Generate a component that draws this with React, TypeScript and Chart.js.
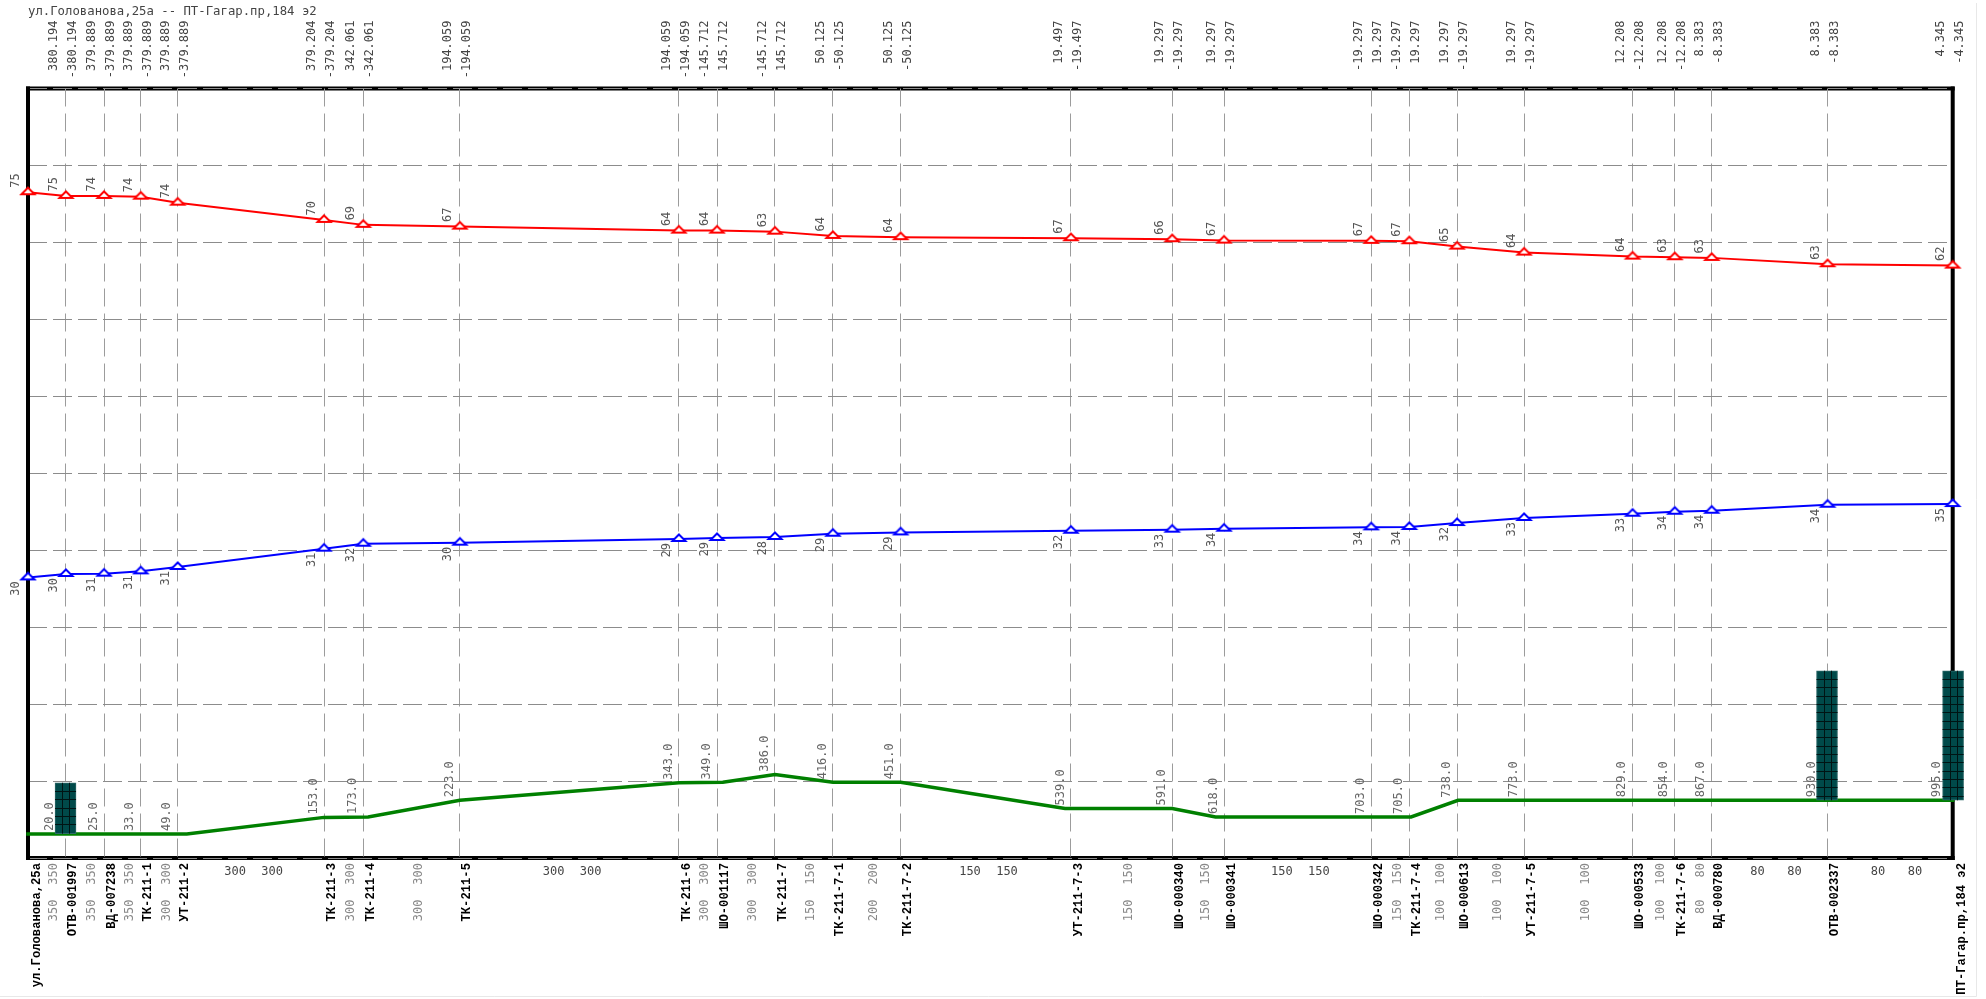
import React, { useEffect, useRef } from "react";
import { Chart, registerables } from "chart.js";

Chart.register(...registerables);

const chartTitle = "ул.Голованова,25а -- ПТ-Гагар.пр,184 э2";

const nodeNames = [
  "ул.Голованова,25а", "ОТВ-001997", "ВД-007238", "ТК-211-1", "УТ-211-2", "ТК-211-3", "ТК-211-4", "ТК-211-5",
  "ТК-211-6", "ШО-001117", "ТК-211-7", "ТК-211-7-1", "ТК-211-7-2", "УТ-211-7-3", "ШО-000340", "ШО-000341",
  "ШО-000342", "ТК-211-7-4", "ШО-000613", "УТ-211-7-5", "ШО-000533", "ТК-211-7-6", "ВД-000780", "ОТВ-002337",
  "ПТ-Гагар.пр,184 э2",
];

const chainage = [
  0, 19.7, 39.5, 58.6, 77.8, 153.8, 174.2, 224.4, 338.2, 358.0, 388.1, 418.2, 453.4,
  541.9, 594.5, 621.4, 697.9, 717.7, 742.5, 777.3, 833.7, 855.6, 874.8, 935.0, 1000,
];

const supplyPressure = [
  74.87, 74.44, 74.44, 74.35, 73.65, 71.63, 71.05, 70.85, 70.38, 70.38, 70.26, 69.76, 69.61,
  69.49, 69.37, 69.21, 69.18, 69.14, 68.51, 67.81, 67.34, 67.27, 67.19, 66.45, 66.29,
];
const returnPressure = [
  29.82, 30.22, 30.26, 30.53, 31.04, 33.18, 33.76, 33.88, 34.31, 34.43, 34.55, 34.93, 35.08,
  35.28, 35.4, 35.52, 35.67, 35.72, 36.18, 36.77, 37.27, 37.5, 37.62, 38.32, 38.4,
];

const groundChainage = [
  0, 82.5, 153.8, 176.7, 224.4, 338.2, 361, 388.1, 418.2, 453.4, 538.8, 594.5, 617, 718.6, 743, 1000,
];
const groundLevel = [
  -0.2, -0.2, 1.75, 1.8, 3.75, 5.8, 5.85, 6.75, 5.85, 5.85, 2.8, 2.8, 1.8, 1.8, 3.75, 3.75,
];

const wellChainage = [19.5, 934.7, 1000.2];
const wellBottom = [-0.15, 3.75, 3.75];
const wellTop = [5.8, 18.9, 18.9];

const supplyLabels = [
  "75", "75", "74", "74", "74", "70", "69", "67", "64", "64", "63", "64", "64",
  "67", "66", "67", "67", "67", "65", "64", "64", "63", "63", "63", "62",
];
const returnLabels = [
  "30", "30", "31", "31", "31", "31", "32", "30", "29", "29", "28", "29", "29",
  "32", "33", "34", "34", "34", "32", "33", "33", "34", "34", "34", "35",
];
const distanceLabels = [
  "", "20.0", "25.0", "33.0", "49.0", "153.0", "173.0", "223.0", "343.0", "349.0", "386.0", "416.0", "451.0",
  "539.0", "591.0", "618.0", "703.0", "705.0", "738.0", "773.0", "829.0", "854.0", "867.0", "930.0", "995.0",
];
const flowLeft = [
  "", "380.194", "379.889", "379.889", "379.889", "379.204", "342.061", "194.059", "194.059", "-145.712", "-145.712",
  "50.125", "50.125", "19.497", "19.297", "19.297", "-19.297", "-19.297", "19.297", "19.297", "12.208", "12.208",
  "8.383", "8.383", "4.345",
];
const flowRight = [
  "", "-380.194", "-379.889", "-379.889", "-379.889", "-379.204", "-342.061", "-194.059", "-194.059", "145.712", "145.712",
  "-50.125", "-50.125", "-19.497", "-19.297", "-19.297", "19.297", "19.297", "-19.297", "-19.297", "-12.208", "-12.208",
  "-8.383", "-8.383", "-4.345",
];
const pipeDiameters = [
  "350", "350", "350", "300", "300", "300", "300", "300", "300", "300", "150", "200",
  "150", "150", "150", "150", "150", "100", "100", "100", "100", "80", "80", "80",
];

const yGridLevels = [-3, 6, 15, 24, 33, 42, 51, 60, 69, 78, 87];

const MONO = '"DejaVu Sans Mono"';
const MONO_BOLD = '"Liberation Mono"';

function triangleSprite(color: string) {
  const c = document.createElement("canvas");
  c.width = 20;
  c.height = 14;
  const g = c.getContext("2d")!;
  g.beginPath();
  g.moveTo(10, 2.5);
  g.lineTo(16.5, 9);
  g.lineTo(3.5, 9);
  g.closePath();
  g.fillStyle = "#fff";
  g.fill();
  g.lineWidth = 2;
  g.lineJoin = "miter";
  g.strokeStyle = color;
  g.stroke();
  return c;
}

function vText(ctx: CanvasRenderingContext2D, s: string, x: number, y: number) {
  ctx.save();
  ctx.translate(x, y);
  ctx.rotate(-Math.PI / 2);
  ctx.textAlign = "right";
  ctx.textBaseline = "middle";
  ctx.fillText(s, 0, 0);
  ctx.restore();
}

const profilePlugin = {
  id: "profile",
  beforeDraw(chart: any) {
    const { ctx, chartArea: a } = chart;
    ctx.save();
    ctx.fillStyle = "#fff";
    ctx.fillRect(0, 0, chart.width, chart.height);
    ctx.strokeStyle = "#e8e8e8";
    ctx.lineWidth = 1;
    ctx.beginPath();
    ctx.moveTo(1976.5, 3);
    ctx.lineTo(1976.5, 996.5);
    ctx.moveTo(0, 996.5);
    ctx.lineTo(1976.5, 996.5);
    ctx.stroke();
    ctx.fillStyle = "#000";
    ctx.fillRect(a.left - 2, a.top - 2, a.width + 4, 4);
    ctx.fillRect(a.left - 2, a.bottom - 2, a.width + 4, 4);
    ctx.restore();
  },
  beforeDatasetsDraw(chart: any) {
    const { ctx, chartArea: a } = chart;
    ctx.save();
    ctx.fillStyle = "#000";
    ctx.fillRect(a.left - 2, a.top - 2, 4, a.height + 4);
    ctx.fillRect(a.right - 2, a.top - 2, 4, a.height + 4);
    ctx.restore();
  },
  afterDatasetsDraw(chart: any) {
    const { ctx, scales } = chart;
    const X = scales.x;
    const Y = scales.y;
    const xs = chainage.map((v) => X.getPixelForValue(v));
    ctx.save();

    // well hatch
    const wells = chart.getDatasetMeta(3).data;
    ctx.strokeStyle = "#001414";
    ctx.lineWidth = 1;
    wells.forEach((b: any) => {
      const left = b.x - b.width / 2;
      const right = b.x + b.width / 2;
      ctx.beginPath();
      for (let k = 1; k <= 2; k++) {
        const vx = Math.round(left + 7 * k) + 0.5;
        ctx.moveTo(vx, b.y);
        ctx.lineTo(vx, b.base);
      }
      for (let h = b.y + 8.33; h < b.base - 1; h += 8.33) {
        const hy = Math.round(h) + 0.5;
        ctx.moveTo(left, hy);
        ctx.lineTo(right, hy);
      }
      ctx.stroke();
    });

    // flows above the frame
    ctx.font = `12px ${MONO}`;
    ctx.fillStyle = "#444";
    xs.forEach((x, i) => {
      if (flowLeft[i]) vText(ctx, flowLeft[i], x - 12, 20.5);
      if (flowRight[i]) vText(ctx, flowRight[i], x + 7, 20.5);
    });

    // pressure labels
    ctx.fillStyle = "#555";
    xs.forEach((x, i) => {
      const up = Y.getPixelForValue(supplyPressure[i]);
      ctx.save();
      ctx.translate(x - 12, up - 4.5);
      ctx.rotate(-Math.PI / 2);
      ctx.textAlign = "left";
      ctx.textBaseline = "middle";
      ctx.fillText(supplyLabels[i], 0, 0);
      ctx.restore();
      vText(ctx, returnLabels[i], x - 12, Y.getPixelForValue(returnPressure[i]) + 4);
    });

    // distance labels
    ctx.fillStyle = "#666";
    xs.forEach((x, i) => {
      if (!distanceLabels[i]) return;
      const dx = i === 1 || i === 23 || i === 24 ? -16 : -10.5;
      let py = Y.getPixelForValue(groundLevel[groundChainage.length - 1]);
      for (let k = 0; k < groundChainage.length - 1; k++) {
        const a0 = groundChainage[k];
        const a1 = groundChainage[k + 1];
        if (chainage[i] >= a0 && chainage[i] <= a1) {
          const t = (chainage[i] - a0) / (a1 - a0);
          py = Y.getPixelForValue(groundLevel[k] + (groundLevel[k + 1] - groundLevel[k]) * t);
          break;
        }
      }
      ctx.save();
      ctx.translate(x + dx, py - 3);
      ctx.rotate(-Math.PI / 2);
      ctx.textAlign = "left";
      ctx.textBaseline = "middle";
      ctx.fillText(distanceLabels[i], 0, 0);
      ctx.restore();
    });

    // node names
    ctx.font = `bold 12.2px ${MONO_BOLD}`;
    ctx.fillStyle = "#000";
    xs.forEach((x, i) => {
      vText(ctx, nodeNames[i], x + (i === 0 || i === 24 ? 9 : 7.5), 863);
    });

    // pipe diameters per span
    ctx.font = `12px ${MONO}`;
    pipeDiameters.forEach((d, i) => {
      const a0 = xs[i];
      const a1 = xs[i + 1];
      const mid = (a0 + a1) / 2;
      if (a1 - a0 > 110) {
        ctx.fillStyle = "#444";
        ctx.textAlign = "right";
        ctx.textBaseline = "middle";
        ctx.fillText(d, mid - 5, 871.7);
        ctx.fillText(d, mid + 32, 871.7);
      } else {
        ctx.fillStyle = "#888";
        vText(ctx, d, mid + 7.3, 863);
        vText(ctx, d, mid + 7.3, 899.5);
      }
    });
    ctx.restore();
  },
};

export default function App() {
  const ref = useRef<HTMLCanvasElement | null>(null);
  useEffect(() => {
    document.body.style.margin = "0";
    const canvas = ref.current!;
    const chart = new Chart(canvas, {
      type: "bar",
      data: {
        datasets: [
          {
            type: "line",
            label: "Подача",
            data: chainage.map((x, i) => ({ x, y: supplyPressure[i] })),
            borderColor: "#ff0000",
            backgroundColor: "#ff0000",
            borderWidth: 2,
            pointStyle: triangleSprite("#ff0000"),
            pointRadius: 8,
            clip: false,
            order: 1,
          },
          {
            type: "line",
            label: "Обратка",
            data: chainage.map((x, i) => ({ x, y: returnPressure[i] })),
            borderColor: "#0000ff",
            backgroundColor: "#0000ff",
            borderWidth: 2,
            pointStyle: triangleSprite("#0000ff"),
            pointRadius: 8,
            clip: false,
            order: 2,
          },
          {
            type: "line",
            label: "Геодезия",
            data: groundChainage.map((x, i) => ({ x, y: groundLevel[i] })),
            borderColor: "#008000",
            backgroundColor: "#008000",
            borderWidth: 3.5,
            borderCapStyle: "square",
            pointRadius: 0,
            clip: false,
            order: 3,
          },
          {
            type: "bar",
            label: "Колодцы",
            data: wellChainage.map((x, i) => ({ x, y: [wellBottom[i], wellTop[i]] })),
            backgroundColor: "#004a4a",
            borderColor: "#2f6a6a",
            borderWidth: 1,
            borderSkipped: false,
            barThickness: 21,
            grouped: false,
            clip: false,
            order: 0,
          },
        ] as any,
      },
      options: {
        animation: false,
        responsive: false,
        devicePixelRatio: 1,
        events: [],
        layout: { padding: { left: 28, right: 33.3, top: 4.6, bottom: 141 } },
        plugins: {
          legend: { display: false },
          tooltip: { enabled: false },
          title: {
            display: true,
            text: chartTitle,
            align: "start",
            color: "#444",
            font: { family: "DejaVu Sans Mono", size: 12.3, weight: "normal", lineHeight: 1.2 },
            padding: { top: 0, bottom: 69.14 },
          },
        },
        scales: {
          x: {
            type: "linear",
            min: 0,
            max: 1000,
            offset: false,
            afterBuildTicks: (s: any) => {
              s.ticks = chainage.map((value) => ({ value }));
            },
            ticks: { display: false },
            border: { display: false, dash: [18, 7] },
            grid: {
              offset: false,
              drawTicks: false,
              lineWidth: 1,
              color: (c: any) => (c.index === 0 || c.index === chainage.length - 1 ? "transparent" : "#9c9c9c"),
            },
          },
          y: {
            type: "linear",
            min: -3,
            max: 87,
            afterBuildTicks: (s: any) => {
              s.ticks = yGridLevels.map((value) => ({ value }));
            },
            ticks: { display: false },
            border: { display: false, dash: [19, 6] },
            grid: { drawTicks: false, lineWidth: 1, color: "#8c8c8c" },
          },
        },
      } as any,
      plugins: [profilePlugin as any],
    });
    return () => chart.destroy();
  }, []);
  return (
    <div style={{ position: "fixed", left: 0, top: 0, width: 1986, height: 999, background: "#fff" }}>
      <canvas ref={ref} width={1986} height={999} style={{ display: "block", width: 1986, height: 999, filter: "blur(0.35px)" }} />
    </div>
  );
}
